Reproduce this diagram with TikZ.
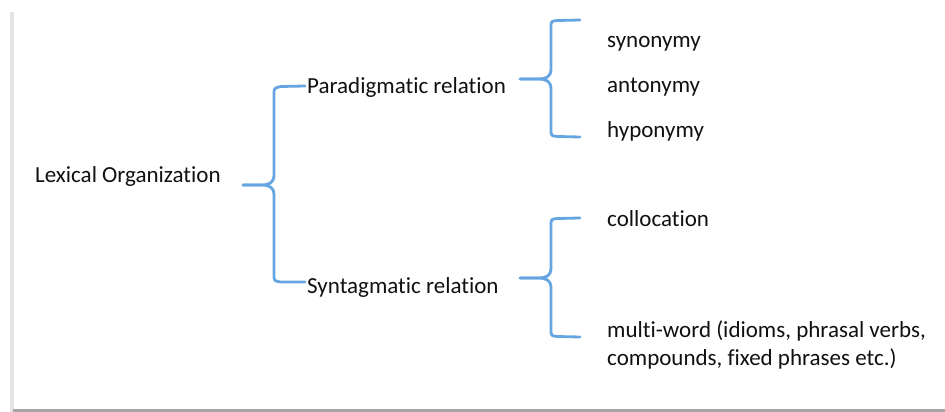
\documentclass[tikz,border=0pt]{standalone}
\usepackage{fontspec}
\setmainfont[Ligatures=NoCommon]{Carlito}
\definecolor{bracecol}{HTML}{64A5E2}
\definecolor{txtcol}{HTML}{111111}
\begin{document}
\begin{tikzpicture}[x=1pt,y=-1pt,
  lbl/.style={anchor=west,inner sep=0pt,font=\fontsize{23}{28}\selectfont,text=txtcol},
  bracepath/.style={draw=bracecol,line width=2.8pt,line cap=round,line join=round}]
\useasboundingbox (0,0) rectangle (945,412);
\fill[white] (0,0) rectangle (945,412);
% page shadow
\fill[gray!20] (10,12) rectangle (14,412);
\fill[gray!70] (13,409) rectangle (945,412);
% nodes
\node[lbl] (lex) at (35,176) {Lexical Organization};
\node[lbl] (par) at (307,87) {Paradigmatic relation};
\node[lbl] (syn) at (307,287) {Syntagmatic relation};
\node[lbl] (s1) at (607,44) {synonymy};
\node[lbl] (s2) at (607,87) {antonymy};
\node[lbl] (s3) at (607,131) {hyponymy};
\node[lbl] (c1) at (607,219) {collocation};
\node[lbl,align=left] (c2) at (607,345) {multi-word (idioms, phrasal verbs,\\compounds, fixed phrases etc.)};
% brace coordinates
\coordinate (b1s) at (243,185);
\coordinate (b1t) at (305,86);
\coordinate (b1b) at (305,282);
\coordinate (b2s) at (520,79);
\coordinate (b2t) at (580,20);
\coordinate (b2b) at (580,137);
\coordinate (b3s) at (520,278);
\coordinate (b3t) at (580,218);
\coordinate (b3b) at (580,337);
% braces
\draw[bracepath] (b1s) -- ++(18,0) .. controls +(8,0) and +(0,8) .. ++(13,-10)
  -- (274,95) .. controls (274,88) .. (281,86.5) -- (b1t);
\draw[bracepath] (b1s) -- ++(18,0) .. controls +(8,0) and +(0,-8) .. ++(13,10)
  -- (274,274) .. controls (274,281) .. (281,282) -- (b1b);
\draw[bracepath] (b2s) -- ++(18,0) .. controls +(8,0) and +(0,8) .. ++(13,-10)
  -- (551,28) .. controls (551,21) .. (558,20.5) -- (b2t);
\draw[bracepath] (b2s) -- ++(18,0) .. controls +(8,0) and +(0,-8) .. ++(13,10)
  -- (551,129) .. controls (551,136) .. (558,136.5) -- (b2b);
\draw[bracepath] (b3s) -- ++(18,0) .. controls +(8,0) and +(0,8) .. ++(13,-10)
  -- (551,226) .. controls (551,219) .. (558,218.5) -- (b3t);
\draw[bracepath] (b3s) -- ++(18,0) .. controls +(8,0) and +(0,-8) .. ++(13,10)
  -- (551,329) .. controls (551,336) .. (558,336.5) -- (b3b);
\end{tikzpicture}
\end{document}
